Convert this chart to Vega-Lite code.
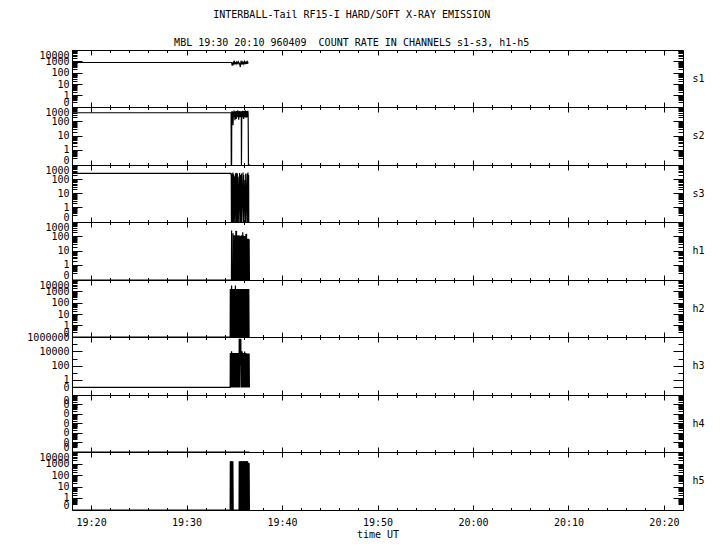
{
"$schema": "https://vega.github.io/schema/vega-lite/v6.json",
"padding": {"left": 26, "top": 10, "right": 10, "bottom": 8},
"background": "white",
"bounds": "flush",
"spacing": 0,
"title": {"text": "INTERBALL-Tail RF15-I HARD/SOFT X-RAY EMISSION", "subtitle": "MBL 19:30 20:10 960409\u00a0 COUNT RATE IN CHANNELS s1-s3, h1-h5", "font": "DejaVu Sans Mono", "fontSize": 10, "fontWeight": "normal", "color": "black", "subtitleFont": "DejaVu Sans Mono", "subtitleFontSize": 10, "subtitleColor": "black", "subtitlePadding": 18, "offset": 1, "anchor": "middle", "dx": -14},
"config": {
  "font": "DejaVu Sans Mono",
  "view": {"stroke": "black", "strokeWidth": 1},
  "axis": {"domain": false, "grid": false, "labelFont": "DejaVu Sans Mono", "labelFontSize": 10, "labelColor": "black", "tickColor": "black", "tickWidth": 1, "titleFont": "DejaVu Sans Mono", "titleFontSize": 10, "titleFontWeight": "normal", "titleColor": "black", "labelOverlap": false},
  "line": {"color": "black", "strokeWidth": 1.2, "clip": true},
  "title": {"font": "DejaVu Sans Mono", "fontSize": 10, "fontWeight": "normal", "color": "black"},
  "concat": {"spacing": 0}
},
"vconcat": [
{
 "width": 611, "height": 57,
 "title": {"text": "s1", "orient": "right", "angle": 0, "align": "left", "baseline": "middle", "anchor": "middle", "offset": -3},
 "data": {"values": [
  {"t":"1996-04-09T19:18:00Z","v":800},{"t":"1996-04-09T19:34:41Z","v":800},{"t":"1996-04-09T19:34:44Z","v":700},{"t":"1996-04-09T19:34:47Z","v":430},{"t":"1996-04-09T19:34:50Z","v":820},{"t":"1996-04-09T19:34:53Z","v":600},{"t":"1996-04-09T19:34:56Z","v":850},{"t":"1996-04-09T19:34:59Z","v":650},{"t":"1996-04-09T19:35:02Z","v":900},{"t":"1996-04-09T19:35:05Z","v":700},{"t":"1996-04-09T19:35:08Z","v":760},{"t":"1996-04-09T19:35:11Z","v":600},{"t":"1996-04-09T19:35:14Z","v":850},{"t":"1996-04-09T19:35:17Z","v":700},{"t":"1996-04-09T19:35:20Z","v":800},{"t":"1996-04-09T19:35:23Z","v":650},{"t":"1996-04-09T19:35:26Z","v":900},{"t":"1996-04-09T19:35:29Z","v":740},{"t":"1996-04-09T19:35:32Z","v":700},{"t":"1996-04-09T19:35:35Z","v":500},{"t":"1996-04-09T19:35:38Z","v":320},{"t":"1996-04-09T19:35:41Z","v":800},{"t":"1996-04-09T19:35:44Z","v":650},{"t":"1996-04-09T19:35:47Z","v":900},{"t":"1996-04-09T19:35:50Z","v":700},{"t":"1996-04-09T19:35:53Z","v":850},{"t":"1996-04-09T19:35:56Z","v":600},{"t":"1996-04-09T19:35:59Z","v":800},{"t":"1996-04-09T19:36:02Z","v":700},{"t":"1996-04-09T19:36:05Z","v":950},{"t":"1996-04-09T19:36:08Z","v":650},{"t":"1996-04-09T19:36:11Z","v":800},{"t":"1996-04-09T19:36:14Z","v":700},{"t":"1996-04-09T19:36:17Z","v":850},{"t":"1996-04-09T19:36:20Z","v":600},{"t":"1996-04-09T19:36:23Z","v":900},{"t":"1996-04-09T19:36:26Z","v":750},{"t":"1996-04-09T19:36:29Z","v":800}
 ]},
 "layer": [
  {"mark": "line", "encoding": {
   "x": {"field": "t", "type": "temporal", "scale": {"type": "utc", "nice": false, "domain": [{"year":1996,"month":4,"date":9,"hours":19,"minutes":18,"utc":true},{"year":1996,"month":4,"date":9,"hours":20,"minutes":22,"utc":true}]}, "axis": {"orient": "bottom", "labels": false, "title": null, "values": [829077600000,829078200000,829078800000,829079400000,829080000000,829080600000,829081200000], "tickSize": -5}},
   "y": {"field": "v", "type": "quantitative", "scale": {"type": "symlog", "constant": 0.1, "domain": [0, 10000], "nice": false, "zero": false}, "axis": {"orient": "left", "title": null, "values": [0,1,10,100,1000,10000], "labelFlush": true, "labelPadding": 13, "labelExpr": "format(datum.value, 'd')", "tickSize": -10}}}},
  {"mark": {"type": "line", "opacity": 0}, "encoding": {
   "x": {"field": "t", "type": "temporal", "scale": {"type": "utc", "nice": false, "domain": [{"year":1996,"month":4,"date":9,"hours":19,"minutes":18,"utc":true},{"year":1996,"month":4,"date":9,"hours":20,"minutes":22,"utc":true}]}, "axis": {"orient": "top", "labels": false, "title": null, "values": [829077600000,829078200000,829078800000,829079400000,829080000000,829080600000,829081200000], "tickSize": -5}},
   "y": {"field": "v", "type": "quantitative", "scale": {"type": "symlog", "constant": 0.1, "domain": [0, 10000], "nice": false, "zero": false}, "axis": {"orient": "right", "labels": false, "title": null, "values": [0,1,10,100,1000,10000], "tickSize": -10}}}},
  {"mark": {"type": "line", "opacity": 0}, "encoding": {
   "x": {"field": "t", "type": "temporal", "scale": {"type": "utc", "nice": false, "domain": [{"year":1996,"month":4,"date":9,"hours":19,"minutes":18,"utc":true},{"year":1996,"month":4,"date":9,"hours":20,"minutes":22,"utc":true}]}, "axis": {"orient": "bottom", "labels": false, "title": null, "values": [829077720000,829077840000,829077960000,829078080000,829078320000,829078440000,829078560000,829078680000,829078920000,829079040000,829079160000,829079280000,829079520000,829079640000,829079760000,829079880000,829080120000,829080240000,829080360000,829080480000,829080720000,829080840000,829080960000,829081080000], "tickSize": -2.5}},
   "y": {"field": "v", "type": "quantitative", "scale": {"type": "symlog", "constant": 0.1, "domain": [0, 10000], "nice": false, "zero": false}, "axis": {"orient": "left", "labels": false, "title": null, "values": [0.2,0.3,0.4,0.5,0.6,0.7,0.8,0.9,2,3,4,5,6,7,8,9,20,30,40,50,60,70,80,90,200,300,400,500,600,700,800,900,2000,3000,4000,5000,6000,7000,8000,9000], "tickSize": -5}}}},
  {"mark": {"type": "line", "opacity": 0}, "encoding": {
   "x": {"field": "t", "type": "temporal", "scale": {"type": "utc", "nice": false, "domain": [{"year":1996,"month":4,"date":9,"hours":19,"minutes":18,"utc":true},{"year":1996,"month":4,"date":9,"hours":20,"minutes":22,"utc":true}]}, "axis": {"orient": "top", "labels": false, "title": null, "values": [829077720000,829077840000,829077960000,829078080000,829078320000,829078440000,829078560000,829078680000,829078920000,829079040000,829079160000,829079280000,829079520000,829079640000,829079760000,829079880000,829080120000,829080240000,829080360000,829080480000,829080720000,829080840000,829080960000,829081080000], "tickSize": -2.5}},
   "y": {"field": "v", "type": "quantitative", "scale": {"type": "symlog", "constant": 0.1, "domain": [0, 10000], "nice": false, "zero": false}, "axis": {"orient": "right", "labels": false, "title": null, "values": [0.2,0.3,0.4,0.5,0.6,0.7,0.8,0.9,2,3,4,5,6,7,8,9,20,30,40,50,60,70,80,90,200,300,400,500,600,700,800,900,2000,3000,4000,5000,6000,7000,8000,9000], "tickSize": -5}}}}
 ],
 "resolve": {"scale": {"x": "independent", "y": "independent"}}
},
{
 "width": 611, "height": 58,
 "title": {"text": "s2", "orient": "right", "angle": 0, "align": "left", "baseline": "middle", "anchor": "middle", "offset": -3},
 "data": {"values": [
  {"t":"1996-04-09T19:18:00Z","v":400},{"t":"1996-04-09T19:34:40Z","v":400},{"t":"1996-04-09T19:34:41Z","v":0},{"t":"1996-04-09T19:34:43Z","v":0},{"t":"1996-04-09T19:34:44Z","v":300},{"t":"1996-04-09T19:34:46Z","v":520},{"t":"1996-04-09T19:34:48Z","v":150},{"t":"1996-04-09T19:34:50Z","v":450},{"t":"1996-04-09T19:34:52Z","v":55},{"t":"1996-04-09T19:34:54Z","v":380},{"t":"1996-04-09T19:34:56Z","v":200},{"t":"1996-04-09T19:34:58Z","v":560},{"t":"1996-04-09T19:35:00Z","v":250},{"t":"1996-04-09T19:35:02Z","v":480},{"t":"1996-04-09T19:35:04Z","v":120},{"t":"1996-04-09T19:35:06Z","v":500},{"t":"1996-04-09T19:35:08Z","v":300},{"t":"1996-04-09T19:35:10Z","v":420},{"t":"1996-04-09T19:35:12Z","v":150},{"t":"1996-04-09T19:35:14Z","v":520},{"t":"1996-04-09T19:35:16Z","v":260},{"t":"1996-04-09T19:35:18Z","v":450},{"t":"1996-04-09T19:35:20Z","v":200},{"t":"1996-04-09T19:35:22Z","v":600},{"t":"1996-04-09T19:35:24Z","v":240},{"t":"1996-04-09T19:35:26Z","v":500},{"t":"1996-04-09T19:35:28Z","v":130},{"t":"1996-04-09T19:35:30Z","v":450},{"t":"1996-04-09T19:35:32Z","v":280},{"t":"1996-04-09T19:35:34Z","v":520},{"t":"1996-04-09T19:35:36Z","v":200},{"t":"1996-04-09T19:35:38Z","v":480},{"t":"1996-04-09T19:35:40Z","v":260},{"t":"1996-04-09T19:35:42Z","v":500},{"t":"1996-04-09T19:35:44Z","v":300},{"t":"1996-04-09T19:35:45Z","v":0},{"t":"1996-04-09T19:35:47Z","v":350},{"t":"1996-04-09T19:35:49Z","v":500},{"t":"1996-04-09T19:35:51Z","v":200},{"t":"1996-04-09T19:35:53Z","v":550},{"t":"1996-04-09T19:35:55Z","v":260},{"t":"1996-04-09T19:35:57Z","v":480},{"t":"1996-04-09T19:35:59Z","v":150},{"t":"1996-04-09T19:36:01Z","v":520},{"t":"1996-04-09T19:36:03Z","v":280},{"t":"1996-04-09T19:36:05Z","v":450},{"t":"1996-04-09T19:36:07Z","v":200},{"t":"1996-04-09T19:36:09Z","v":600},{"t":"1996-04-09T19:36:11Z","v":300},{"t":"1996-04-09T19:36:13Z","v":500},{"t":"1996-04-09T19:36:15Z","v":180},{"t":"1996-04-09T19:36:17Z","v":520},{"t":"1996-04-09T19:36:19Z","v":250},{"t":"1996-04-09T19:36:21Z","v":480},{"t":"1996-04-09T19:36:23Z","v":200},{"t":"1996-04-09T19:36:25Z","v":550},{"t":"1996-04-09T19:36:27Z","v":300},{"t":"1996-04-09T19:36:29Z","v":0},{"t":"1996-04-09T19:36:40Z","v":0}
 ]},
 "layer": [
  {"mark": "line", "encoding": {
   "x": {"field": "t", "type": "temporal", "scale": {"type": "utc", "nice": false, "domain": [{"year":1996,"month":4,"date":9,"hours":19,"minutes":18,"utc":true},{"year":1996,"month":4,"date":9,"hours":20,"minutes":22,"utc":true}]}, "axis": {"orient": "bottom", "labels": false, "title": null, "values": [829077600000,829078200000,829078800000,829079400000,829080000000,829080600000,829081200000], "tickSize": -5}},
   "y": {"field": "v", "type": "quantitative", "scale": {"type": "symlog", "constant": 0.1, "domain": [0, 1000], "nice": false, "zero": false}, "axis": {"orient": "left", "title": null, "values": [0,1,10,100,1000], "labelFlush": true, "labelPadding": 13, "labelExpr": "format(datum.value, 'd')", "tickSize": -10}}}},
  {"mark": {"type": "line", "opacity": 0}, "encoding": {
   "x": {"field": "t", "type": "temporal", "scale": {"type": "utc", "nice": false, "domain": [{"year":1996,"month":4,"date":9,"hours":19,"minutes":18,"utc":true},{"year":1996,"month":4,"date":9,"hours":20,"minutes":22,"utc":true}]}, "axis": {"orient": "top", "labels": false, "title": null, "values": [829077600000,829078200000,829078800000,829079400000,829080000000,829080600000,829081200000], "tickSize": -5}},
   "y": {"field": "v", "type": "quantitative", "scale": {"type": "symlog", "constant": 0.1, "domain": [0, 1000], "nice": false, "zero": false}, "axis": {"orient": "right", "labels": false, "title": null, "values": [0,1,10,100,1000], "tickSize": -10}}}},
  {"mark": {"type": "line", "opacity": 0}, "encoding": {
   "x": {"field": "t", "type": "temporal", "scale": {"type": "utc", "nice": false, "domain": [{"year":1996,"month":4,"date":9,"hours":19,"minutes":18,"utc":true},{"year":1996,"month":4,"date":9,"hours":20,"minutes":22,"utc":true}]}, "axis": {"orient": "bottom", "labels": false, "title": null, "values": [829077720000,829077840000,829077960000,829078080000,829078320000,829078440000,829078560000,829078680000,829078920000,829079040000,829079160000,829079280000,829079520000,829079640000,829079760000,829079880000,829080120000,829080240000,829080360000,829080480000,829080720000,829080840000,829080960000,829081080000], "tickSize": -2.5}},
   "y": {"field": "v", "type": "quantitative", "scale": {"type": "symlog", "constant": 0.1, "domain": [0, 1000], "nice": false, "zero": false}, "axis": {"orient": "left", "labels": false, "title": null, "values": [0.2,0.3,0.4,0.5,0.6,0.7,0.8,0.9,2,3,4,5,6,7,8,9,20,30,40,50,60,70,80,90,200,300,400,500,600,700,800,900], "tickSize": -5}}}},
  {"mark": {"type": "line", "opacity": 0}, "encoding": {
   "x": {"field": "t", "type": "temporal", "scale": {"type": "utc", "nice": false, "domain": [{"year":1996,"month":4,"date":9,"hours":19,"minutes":18,"utc":true},{"year":1996,"month":4,"date":9,"hours":20,"minutes":22,"utc":true}]}, "axis": {"orient": "top", "labels": false, "title": null, "values": [829077720000,829077840000,829077960000,829078080000,829078320000,829078440000,829078560000,829078680000,829078920000,829079040000,829079160000,829079280000,829079520000,829079640000,829079760000,829079880000,829080120000,829080240000,829080360000,829080480000,829080720000,829080840000,829080960000,829081080000], "tickSize": -2.5}},
   "y": {"field": "v", "type": "quantitative", "scale": {"type": "symlog", "constant": 0.1, "domain": [0, 1000], "nice": false, "zero": false}, "axis": {"orient": "right", "labels": false, "title": null, "values": [0.2,0.3,0.4,0.5,0.6,0.7,0.8,0.9,2,3,4,5,6,7,8,9,20,30,40,50,60,70,80,90,200,300,400,500,600,700,800,900], "tickSize": -5}}}}
 ],
 "resolve": {"scale": {"x": "independent", "y": "independent"}}
},
{
 "width": 611, "height": 57,
 "title": {"text": "s3", "orient": "right", "angle": 0, "align": "left", "baseline": "middle", "anchor": "middle", "offset": -3},
 "data": {"values": [
  {"t":"1996-04-09T19:18:00Z","v":260},{"t":"1996-04-09T19:34:38Z","v":260},{"t":"1996-04-09T19:34:41Z","v":180},{"t":"1996-04-09T19:34:42Z","v":0},
  {"t":"1996-04-09T19:34:43Z","v":250},{"t":"1996-04-09T19:34:45Z","v":0},{"t":"1996-04-09T19:34:47Z","v":180},{"t":"1996-04-09T19:34:49Z","v":0},{"t":"1996-04-09T19:34:51Z","v":300},{"t":"1996-04-09T19:34:53Z","v":0},{"t":"1996-04-09T19:34:55Z","v":220},{"t":"1996-04-09T19:34:57Z","v":0},{"t":"1996-04-09T19:34:59Z","v":160},{"t":"1996-04-09T19:35:00Z","v":0},
  {"t":"1996-04-09T19:35:07Z","v":240},{"t":"1996-04-09T19:35:09Z","v":0},{"t":"1996-04-09T19:35:11Z","v":290},{"t":"1996-04-09T19:35:13Z","v":0},{"t":"1996-04-09T19:35:15Z","v":200},{"t":"1996-04-09T19:35:17Z","v":0},{"t":"1996-04-09T19:35:19Z","v":260},{"t":"1996-04-09T19:35:21Z","v":0},{"t":"1996-04-09T19:35:23Z","v":150},{"t":"1996-04-09T19:35:25Z","v":0},
  {"t":"1996-04-09T19:35:33Z","v":270},{"t":"1996-04-09T19:35:35Z","v":0},{"t":"1996-04-09T19:35:37Z","v":200},{"t":"1996-04-09T19:35:39Z","v":0},{"t":"1996-04-09T19:35:41Z","v":120},{"t":"1996-04-09T19:35:43Z","v":0},{"t":"1996-04-09T19:35:45Z","v":250},{"t":"1996-04-09T19:35:46Z","v":0},
  {"t":"1996-04-09T19:35:55Z","v":300},{"t":"1996-04-09T19:35:57Z","v":0},{"t":"1996-04-09T19:35:59Z","v":200},{"t":"1996-04-09T19:36:00Z","v":0},
  {"t":"1996-04-09T19:36:08Z","v":90},{"t":"1996-04-09T19:36:10Z","v":0},{"t":"1996-04-09T19:36:12Z","v":250},{"t":"1996-04-09T19:36:14Z","v":0},
  {"t":"1996-04-09T19:36:22Z","v":240},{"t":"1996-04-09T19:36:24Z","v":0},{"t":"1996-04-09T19:36:26Z","v":300},{"t":"1996-04-09T19:36:28Z","v":0},{"t":"1996-04-09T19:36:30Z","v":200},{"t":"1996-04-09T19:36:31Z","v":0}
 ]},
 "layer": [
  {"mark": "line", "encoding": {
   "x": {"field": "t", "type": "temporal", "scale": {"type": "utc", "nice": false, "domain": [{"year":1996,"month":4,"date":9,"hours":19,"minutes":18,"utc":true},{"year":1996,"month":4,"date":9,"hours":20,"minutes":22,"utc":true}]}, "axis": {"orient": "bottom", "labels": false, "title": null, "values": [829077600000,829078200000,829078800000,829079400000,829080000000,829080600000,829081200000], "tickSize": -5}},
   "y": {"field": "v", "type": "quantitative", "scale": {"type": "symlog", "constant": 0.1, "domain": [0, 1000], "nice": false, "zero": false}, "axis": {"orient": "left", "title": null, "values": [0,1,10,100,1000], "labelFlush": true, "labelPadding": 13, "labelExpr": "format(datum.value, 'd')", "tickSize": -10}}}},
  {"mark": {"type": "line", "opacity": 0}, "encoding": {
   "x": {"field": "t", "type": "temporal", "scale": {"type": "utc", "nice": false, "domain": [{"year":1996,"month":4,"date":9,"hours":19,"minutes":18,"utc":true},{"year":1996,"month":4,"date":9,"hours":20,"minutes":22,"utc":true}]}, "axis": {"orient": "top", "labels": false, "title": null, "values": [829077600000,829078200000,829078800000,829079400000,829080000000,829080600000,829081200000], "tickSize": -5}},
   "y": {"field": "v", "type": "quantitative", "scale": {"type": "symlog", "constant": 0.1, "domain": [0, 1000], "nice": false, "zero": false}, "axis": {"orient": "right", "labels": false, "title": null, "values": [0,1,10,100,1000], "tickSize": -10}}}},
  {"mark": {"type": "line", "opacity": 0}, "encoding": {
   "x": {"field": "t", "type": "temporal", "scale": {"type": "utc", "nice": false, "domain": [{"year":1996,"month":4,"date":9,"hours":19,"minutes":18,"utc":true},{"year":1996,"month":4,"date":9,"hours":20,"minutes":22,"utc":true}]}, "axis": {"orient": "bottom", "labels": false, "title": null, "values": [829077720000,829077840000,829077960000,829078080000,829078320000,829078440000,829078560000,829078680000,829078920000,829079040000,829079160000,829079280000,829079520000,829079640000,829079760000,829079880000,829080120000,829080240000,829080360000,829080480000,829080720000,829080840000,829080960000,829081080000], "tickSize": -2.5}},
   "y": {"field": "v", "type": "quantitative", "scale": {"type": "symlog", "constant": 0.1, "domain": [0, 1000], "nice": false, "zero": false}, "axis": {"orient": "left", "labels": false, "title": null, "values": [0.2,0.3,0.4,0.5,0.6,0.7,0.8,0.9,2,3,4,5,6,7,8,9,20,30,40,50,60,70,80,90,200,300,400,500,600,700,800,900], "tickSize": -5}}}},
  {"mark": {"type": "line", "opacity": 0}, "encoding": {
   "x": {"field": "t", "type": "temporal", "scale": {"type": "utc", "nice": false, "domain": [{"year":1996,"month":4,"date":9,"hours":19,"minutes":18,"utc":true},{"year":1996,"month":4,"date":9,"hours":20,"minutes":22,"utc":true}]}, "axis": {"orient": "top", "labels": false, "title": null, "values": [829077720000,829077840000,829077960000,829078080000,829078320000,829078440000,829078560000,829078680000,829078920000,829079040000,829079160000,829079280000,829079520000,829079640000,829079760000,829079880000,829080120000,829080240000,829080360000,829080480000,829080720000,829080840000,829080960000,829081080000], "tickSize": -2.5}},
   "y": {"field": "v", "type": "quantitative", "scale": {"type": "symlog", "constant": 0.1, "domain": [0, 1000], "nice": false, "zero": false}, "axis": {"orient": "right", "labels": false, "title": null, "values": [0.2,0.3,0.4,0.5,0.6,0.7,0.8,0.9,2,3,4,5,6,7,8,9,20,30,40,50,60,70,80,90,200,300,400,500,600,700,800,900], "tickSize": -5}}}}
 ],
 "resolve": {"scale": {"x": "independent", "y": "independent"}}
},
{
 "width": 611, "height": 58,
 "title": {"text": "h1", "orient": "right", "angle": 0, "align": "left", "baseline": "middle", "anchor": "middle", "offset": -3},
 "data": {"values": [
  {"t":"1996-04-09T19:18:00Z","v":0},{"t":"1996-04-09T19:34:42Z","v":0},{"t":"1996-04-09T19:34:43Z","v":257},{"t":"1996-04-09T19:34:44Z","v":0},{"t":"1996-04-09T19:34:51Z","v":0},{"t":"1996-04-09T19:34:52Z","v":166},{"t":"1996-04-09T19:34:53Z","v":0},
  {"t":"1996-04-09T19:34:58Z","v":115},{"t":"1996-04-09T19:35:00Z","v":0},{"t":"1996-04-09T19:35:02Z","v":120},{"t":"1996-04-09T19:35:04Z","v":0},{"t":"1996-04-09T19:35:06Z","v":110},{"t":"1996-04-09T19:35:08Z","v":0},{"t":"1996-04-09T19:35:10Z","v":250},{"t":"1996-04-09T19:35:12Z","v":0},{"t":"1996-04-09T19:35:14Z","v":240},{"t":"1996-04-09T19:35:16Z","v":0},{"t":"1996-04-09T19:35:18Z","v":115},{"t":"1996-04-09T19:35:20Z","v":0},
  {"t":"1996-04-09T19:35:25Z","v":120},{"t":"1996-04-09T19:35:27Z","v":0},{"t":"1996-04-09T19:35:29Z","v":100},{"t":"1996-04-09T19:35:31Z","v":0},{"t":"1996-04-09T19:35:33Z","v":115},{"t":"1996-04-09T19:35:35Z","v":0},{"t":"1996-04-09T19:35:37Z","v":90},{"t":"1996-04-09T19:35:39Z","v":0},{"t":"1996-04-09T19:35:41Z","v":110},{"t":"1996-04-09T19:35:43Z","v":0},{"t":"1996-04-09T19:35:45Z","v":120},{"t":"1996-04-09T19:35:47Z","v":0},{"t":"1996-04-09T19:35:49Z","v":110},{"t":"1996-04-09T19:35:51Z","v":0},{"t":"1996-04-09T19:35:53Z","v":195},{"t":"1996-04-09T19:35:55Z","v":0},{"t":"1996-04-09T19:35:57Z","v":115},{"t":"1996-04-09T19:35:59Z","v":0},{"t":"1996-04-09T19:36:01Z","v":100},{"t":"1996-04-09T19:36:03Z","v":0},{"t":"1996-04-09T19:36:05Z","v":110},{"t":"1996-04-09T19:36:07Z","v":0},{"t":"1996-04-09T19:36:09Z","v":90},{"t":"1996-04-09T19:36:11Z","v":0},{"t":"1996-04-09T19:36:13Z","v":150},{"t":"1996-04-09T19:36:15Z","v":0},{"t":"1996-04-09T19:36:17Z","v":155},{"t":"1996-04-09T19:36:19Z","v":0},{"t":"1996-04-09T19:36:21Z","v":70},{"t":"1996-04-09T19:36:23Z","v":0},{"t":"1996-04-09T19:36:25Z","v":68},{"t":"1996-04-09T19:36:27Z","v":0},{"t":"1996-04-09T19:36:29Z","v":70},{"t":"1996-04-09T19:36:31Z","v":0},{"t":"1996-04-09T19:36:33Z","v":65},{"t":"1996-04-09T19:36:35Z","v":0}
 ]},
 "layer": [
  {"mark": "line", "encoding": {
   "x": {"field": "t", "type": "temporal", "scale": {"type": "utc", "nice": false, "domain": [{"year":1996,"month":4,"date":9,"hours":19,"minutes":18,"utc":true},{"year":1996,"month":4,"date":9,"hours":20,"minutes":22,"utc":true}]}, "axis": {"orient": "bottom", "labels": false, "title": null, "values": [829077600000,829078200000,829078800000,829079400000,829080000000,829080600000,829081200000], "tickSize": -5}},
   "y": {"field": "v", "type": "quantitative", "scale": {"type": "symlog", "constant": 0.1, "domain": [0, 1000], "nice": false, "zero": false}, "axis": {"orient": "left", "title": null, "values": [0,1,10,100,1000], "labelFlush": true, "labelPadding": 13, "labelExpr": "format(datum.value, 'd')", "tickSize": -10}}}},
  {"mark": {"type": "line", "opacity": 0}, "encoding": {
   "x": {"field": "t", "type": "temporal", "scale": {"type": "utc", "nice": false, "domain": [{"year":1996,"month":4,"date":9,"hours":19,"minutes":18,"utc":true},{"year":1996,"month":4,"date":9,"hours":20,"minutes":22,"utc":true}]}, "axis": {"orient": "top", "labels": false, "title": null, "values": [829077600000,829078200000,829078800000,829079400000,829080000000,829080600000,829081200000], "tickSize": -5}},
   "y": {"field": "v", "type": "quantitative", "scale": {"type": "symlog", "constant": 0.1, "domain": [0, 1000], "nice": false, "zero": false}, "axis": {"orient": "right", "labels": false, "title": null, "values": [0,1,10,100,1000], "tickSize": -10}}}},
  {"mark": {"type": "line", "opacity": 0}, "encoding": {
   "x": {"field": "t", "type": "temporal", "scale": {"type": "utc", "nice": false, "domain": [{"year":1996,"month":4,"date":9,"hours":19,"minutes":18,"utc":true},{"year":1996,"month":4,"date":9,"hours":20,"minutes":22,"utc":true}]}, "axis": {"orient": "bottom", "labels": false, "title": null, "values": [829077720000,829077840000,829077960000,829078080000,829078320000,829078440000,829078560000,829078680000,829078920000,829079040000,829079160000,829079280000,829079520000,829079640000,829079760000,829079880000,829080120000,829080240000,829080360000,829080480000,829080720000,829080840000,829080960000,829081080000], "tickSize": -2.5}},
   "y": {"field": "v", "type": "quantitative", "scale": {"type": "symlog", "constant": 0.1, "domain": [0, 1000], "nice": false, "zero": false}, "axis": {"orient": "left", "labels": false, "title": null, "values": [0.2,0.3,0.4,0.5,0.6,0.7,0.8,0.9,2,3,4,5,6,7,8,9,20,30,40,50,60,70,80,90,200,300,400,500,600,700,800,900], "tickSize": -5}}}},
  {"mark": {"type": "line", "opacity": 0}, "encoding": {
   "x": {"field": "t", "type": "temporal", "scale": {"type": "utc", "nice": false, "domain": [{"year":1996,"month":4,"date":9,"hours":19,"minutes":18,"utc":true},{"year":1996,"month":4,"date":9,"hours":20,"minutes":22,"utc":true}]}, "axis": {"orient": "top", "labels": false, "title": null, "values": [829077720000,829077840000,829077960000,829078080000,829078320000,829078440000,829078560000,829078680000,829078920000,829079040000,829079160000,829079280000,829079520000,829079640000,829079760000,829079880000,829080120000,829080240000,829080360000,829080480000,829080720000,829080840000,829080960000,829081080000], "tickSize": -2.5}},
   "y": {"field": "v", "type": "quantitative", "scale": {"type": "symlog", "constant": 0.1, "domain": [0, 1000], "nice": false, "zero": false}, "axis": {"orient": "right", "labels": false, "title": null, "values": [0.2,0.3,0.4,0.5,0.6,0.7,0.8,0.9,2,3,4,5,6,7,8,9,20,30,40,50,60,70,80,90,200,300,400,500,600,700,800,900], "tickSize": -5}}}}
 ],
 "resolve": {"scale": {"x": "independent", "y": "independent"}}
},
{
 "width": 611, "height": 57,
 "title": {"text": "h2", "orient": "right", "angle": 0, "align": "left", "baseline": "middle", "anchor": "middle", "offset": -3},
 "data": {"values": [
  {"t":"1996-04-09T19:18:00Z","v":0},{"t":"1996-04-09T19:34:34Z","v":0},
  {"t":"1996-04-09T19:34:35Z","v":1600},{"t":"1996-04-09T19:34:37Z","v":0},{"t":"1996-04-09T19:34:39Z","v":1650},{"t":"1996-04-09T19:34:41Z","v":0},{"t":"1996-04-09T19:34:43Z","v":3300},{"t":"1996-04-09T19:34:45Z","v":0},{"t":"1996-04-09T19:34:47Z","v":1600},{"t":"1996-04-09T19:34:49Z","v":0},{"t":"1996-04-09T19:34:51Z","v":1650},{"t":"1996-04-09T19:34:53Z","v":0},{"t":"1996-04-09T19:34:55Z","v":1600},{"t":"1996-04-09T19:34:57Z","v":0},{"t":"1996-04-09T19:34:59Z","v":1620},{"t":"1996-04-09T19:35:01Z","v":0},{"t":"1996-04-09T19:35:03Z","v":1600},{"t":"1996-04-09T19:35:05Z","v":0},{"t":"1996-04-09T19:35:07Z","v":3300},{"t":"1996-04-09T19:35:09Z","v":0},{"t":"1996-04-09T19:35:11Z","v":1600},{"t":"1996-04-09T19:35:13Z","v":0},{"t":"1996-04-09T19:35:15Z","v":1650},{"t":"1996-04-09T19:35:17Z","v":0},{"t":"1996-04-09T19:35:19Z","v":1600},{"t":"1996-04-09T19:35:21Z","v":0},{"t":"1996-04-09T19:35:23Z","v":1620},{"t":"1996-04-09T19:35:25Z","v":0},{"t":"1996-04-09T19:35:27Z","v":1600},{"t":"1996-04-09T19:35:29Z","v":0},{"t":"1996-04-09T19:35:31Z","v":1650},{"t":"1996-04-09T19:35:33Z","v":0},{"t":"1996-04-09T19:35:35Z","v":1600},{"t":"1996-04-09T19:35:37Z","v":0},{"t":"1996-04-09T19:35:39Z","v":1620},{"t":"1996-04-09T19:35:41Z","v":0},{"t":"1996-04-09T19:35:43Z","v":1600},{"t":"1996-04-09T19:35:45Z","v":0},{"t":"1996-04-09T19:35:47Z","v":1650},{"t":"1996-04-09T19:35:49Z","v":0},{"t":"1996-04-09T19:35:51Z","v":1600},{"t":"1996-04-09T19:35:53Z","v":0},{"t":"1996-04-09T19:35:55Z","v":1620},{"t":"1996-04-09T19:35:57Z","v":0},{"t":"1996-04-09T19:35:59Z","v":1600},{"t":"1996-04-09T19:36:01Z","v":0},{"t":"1996-04-09T19:36:03Z","v":1650},{"t":"1996-04-09T19:36:05Z","v":0},{"t":"1996-04-09T19:36:07Z","v":1600},{"t":"1996-04-09T19:36:09Z","v":0},{"t":"1996-04-09T19:36:11Z","v":1620},{"t":"1996-04-09T19:36:13Z","v":0},{"t":"1996-04-09T19:36:15Z","v":1600},{"t":"1996-04-09T19:36:17Z","v":0},{"t":"1996-04-09T19:36:19Z","v":1650},{"t":"1996-04-09T19:36:21Z","v":0},{"t":"1996-04-09T19:36:23Z","v":1600},{"t":"1996-04-09T19:36:25Z","v":0},{"t":"1996-04-09T19:36:27Z","v":1620},{"t":"1996-04-09T19:36:29Z","v":0},{"t":"1996-04-09T19:36:31Z","v":1600},{"t":"1996-04-09T19:36:33Z","v":0}
 ]},
 "layer": [
  {"mark": "line", "encoding": {
   "x": {"field": "t", "type": "temporal", "scale": {"type": "utc", "nice": false, "domain": [{"year":1996,"month":4,"date":9,"hours":19,"minutes":18,"utc":true},{"year":1996,"month":4,"date":9,"hours":20,"minutes":22,"utc":true}]}, "axis": {"orient": "bottom", "labels": false, "title": null, "values": [829077600000,829078200000,829078800000,829079400000,829080000000,829080600000,829081200000], "tickSize": -5}},
   "y": {"field": "v", "type": "quantitative", "scale": {"type": "symlog", "constant": 0.1, "domain": [0, 10000], "nice": false, "zero": false}, "axis": {"orient": "left", "title": null, "values": [0,1,10,100,1000,10000], "labelFlush": true, "labelPadding": 13, "labelExpr": "format(datum.value, 'd')", "tickSize": -10}}}},
  {"mark": {"type": "line", "opacity": 0}, "encoding": {
   "x": {"field": "t", "type": "temporal", "scale": {"type": "utc", "nice": false, "domain": [{"year":1996,"month":4,"date":9,"hours":19,"minutes":18,"utc":true},{"year":1996,"month":4,"date":9,"hours":20,"minutes":22,"utc":true}]}, "axis": {"orient": "top", "labels": false, "title": null, "values": [829077600000,829078200000,829078800000,829079400000,829080000000,829080600000,829081200000], "tickSize": -5}},
   "y": {"field": "v", "type": "quantitative", "scale": {"type": "symlog", "constant": 0.1, "domain": [0, 10000], "nice": false, "zero": false}, "axis": {"orient": "right", "labels": false, "title": null, "values": [0,1,10,100,1000,10000], "tickSize": -10}}}},
  {"mark": {"type": "line", "opacity": 0}, "encoding": {
   "x": {"field": "t", "type": "temporal", "scale": {"type": "utc", "nice": false, "domain": [{"year":1996,"month":4,"date":9,"hours":19,"minutes":18,"utc":true},{"year":1996,"month":4,"date":9,"hours":20,"minutes":22,"utc":true}]}, "axis": {"orient": "bottom", "labels": false, "title": null, "values": [829077720000,829077840000,829077960000,829078080000,829078320000,829078440000,829078560000,829078680000,829078920000,829079040000,829079160000,829079280000,829079520000,829079640000,829079760000,829079880000,829080120000,829080240000,829080360000,829080480000,829080720000,829080840000,829080960000,829081080000], "tickSize": -2.5}},
   "y": {"field": "v", "type": "quantitative", "scale": {"type": "symlog", "constant": 0.1, "domain": [0, 10000], "nice": false, "zero": false}, "axis": {"orient": "left", "labels": false, "title": null, "values": [0.2,0.3,0.4,0.5,0.6,0.7,0.8,0.9,2,3,4,5,6,7,8,9,20,30,40,50,60,70,80,90,200,300,400,500,600,700,800,900,2000,3000,4000,5000,6000,7000,8000,9000], "tickSize": -5}}}},
  {"mark": {"type": "line", "opacity": 0}, "encoding": {
   "x": {"field": "t", "type": "temporal", "scale": {"type": "utc", "nice": false, "domain": [{"year":1996,"month":4,"date":9,"hours":19,"minutes":18,"utc":true},{"year":1996,"month":4,"date":9,"hours":20,"minutes":22,"utc":true}]}, "axis": {"orient": "top", "labels": false, "title": null, "values": [829077720000,829077840000,829077960000,829078080000,829078320000,829078440000,829078560000,829078680000,829078920000,829079040000,829079160000,829079280000,829079520000,829079640000,829079760000,829079880000,829080120000,829080240000,829080360000,829080480000,829080720000,829080840000,829080960000,829081080000], "tickSize": -2.5}},
   "y": {"field": "v", "type": "quantitative", "scale": {"type": "symlog", "constant": 0.1, "domain": [0, 10000], "nice": false, "zero": false}, "axis": {"orient": "right", "labels": false, "title": null, "values": [0.2,0.3,0.4,0.5,0.6,0.7,0.8,0.9,2,3,4,5,6,7,8,9,20,30,40,50,60,70,80,90,200,300,400,500,600,700,800,900,2000,3000,4000,5000,6000,7000,8000,9000], "tickSize": -5}}}}
 ],
 "resolve": {"scale": {"x": "independent", "y": "independent"}}
},
{
 "width": 611, "height": 58,
 "title": {"text": "h3", "orient": "right", "angle": 0, "align": "left", "baseline": "middle", "anchor": "middle", "offset": -3},
 "data": {"values": [
  {"t":"1996-04-09T19:18:00Z","v":0},{"t":"1996-04-09T19:34:34Z","v":0},
  {"t":"1996-04-09T19:34:35Z","v":6000},{"t":"1996-04-09T19:34:37Z","v":0},{"t":"1996-04-09T19:34:39Z","v":6200},{"t":"1996-04-09T19:34:41Z","v":0},{"t":"1996-04-09T19:34:43Z","v":10500},{"t":"1996-04-09T19:34:45Z","v":0},{"t":"1996-04-09T19:34:47Z","v":6000},{"t":"1996-04-09T19:34:49Z","v":0},{"t":"1996-04-09T19:34:51Z","v":6200},{"t":"1996-04-09T19:34:53Z","v":0},{"t":"1996-04-09T19:34:55Z","v":5800},{"t":"1996-04-09T19:34:57Z","v":0},{"t":"1996-04-09T19:34:59Z","v":6000},{"t":"1996-04-09T19:35:01Z","v":0},{"t":"1996-04-09T19:35:03Z","v":6200},{"t":"1996-04-09T19:35:05Z","v":0},{"t":"1996-04-09T19:35:07Z","v":6000},{"t":"1996-04-09T19:35:09Z","v":0},{"t":"1996-04-09T19:35:11Z","v":6100},{"t":"1996-04-09T19:35:13Z","v":0},{"t":"1996-04-09T19:35:15Z","v":6000},{"t":"1996-04-09T19:35:17Z","v":0},{"t":"1996-04-09T19:35:19Z","v":6200},{"t":"1996-04-09T19:35:21Z","v":0},{"t":"1996-04-09T19:35:23Z","v":5900},{"t":"1996-04-09T19:35:25Z","v":0},{"t":"1996-04-09T19:35:27Z","v":6000},{"t":"1996-04-09T19:35:29Z","v":0},{"t":"1996-04-09T19:35:31Z","v":550000},{"t":"1996-04-09T19:35:33Z","v":0},{"t":"1996-04-09T19:35:35Z","v":550000},{"t":"1996-04-09T19:35:38Z","v":140},{"t":"1996-04-09T19:35:41Z","v":550000},{"t":"1996-04-09T19:35:43Z","v":0},{"t":"1996-04-09T19:35:45Z","v":6000},{"t":"1996-04-09T19:35:47Z","v":0},{"t":"1996-04-09T19:35:49Z","v":10500},{"t":"1996-04-09T19:35:51Z","v":0},{"t":"1996-04-09T19:35:53Z","v":6000},{"t":"1996-04-09T19:35:55Z","v":0},{"t":"1996-04-09T19:35:57Z","v":6200},{"t":"1996-04-09T19:35:59Z","v":0},{"t":"1996-04-09T19:36:01Z","v":6000},{"t":"1996-04-09T19:36:03Z","v":0},{"t":"1996-04-09T19:36:05Z","v":10000},{"t":"1996-04-09T19:36:07Z","v":0},{"t":"1996-04-09T19:36:09Z","v":6000},{"t":"1996-04-09T19:36:11Z","v":0},{"t":"1996-04-09T19:36:13Z","v":6200},{"t":"1996-04-09T19:36:15Z","v":0},{"t":"1996-04-09T19:36:17Z","v":5000},{"t":"1996-04-09T19:36:19Z","v":0},{"t":"1996-04-09T19:36:21Z","v":5200},{"t":"1996-04-09T19:36:23Z","v":0},{"t":"1996-04-09T19:36:25Z","v":5000},{"t":"1996-04-09T19:36:27Z","v":0},{"t":"1996-04-09T19:36:29Z","v":5200},{"t":"1996-04-09T19:36:31Z","v":0},{"t":"1996-04-09T19:36:33Z","v":5000},{"t":"1996-04-09T19:36:35Z","v":0}
 ]},
 "layer": [
  {"mark": "line", "encoding": {
   "x": {"field": "t", "type": "temporal", "scale": {"type": "utc", "nice": false, "domain": [{"year":1996,"month":4,"date":9,"hours":19,"minutes":18,"utc":true},{"year":1996,"month":4,"date":9,"hours":20,"minutes":22,"utc":true}]}, "axis": {"orient": "bottom", "labels": false, "title": null, "values": [829077600000,829078200000,829078800000,829079400000,829080000000,829080600000,829081200000], "tickSize": -5}},
   "y": {"field": "v", "type": "quantitative", "scale": {"type": "symlog", "constant": 0.1, "domain": [-1.02, 1000000], "nice": false, "zero": false}, "axis": {"orient": "left", "title": null, "values": [0,1,100,10000,1000000], "labelFlush": false, "labelPadding": 13, "labelExpr": "format(datum.value, 'd')", "tickSize": -10}}}},
  {"mark": {"type": "line", "opacity": 0}, "encoding": {
   "x": {"field": "t", "type": "temporal", "scale": {"type": "utc", "nice": false, "domain": [{"year":1996,"month":4,"date":9,"hours":19,"minutes":18,"utc":true},{"year":1996,"month":4,"date":9,"hours":20,"minutes":22,"utc":true}]}, "axis": {"orient": "top", "labels": false, "title": null, "values": [829077600000,829078200000,829078800000,829079400000,829080000000,829080600000,829081200000], "tickSize": -5}},
   "y": {"field": "v", "type": "quantitative", "scale": {"type": "symlog", "constant": 0.1, "domain": [-1.02, 1000000], "nice": false, "zero": false}, "axis": {"orient": "right", "labels": false, "title": null, "values": [0,1,100,10000,1000000], "tickSize": -10}}}},
  {"mark": {"type": "line", "opacity": 0}, "encoding": {
   "x": {"field": "t", "type": "temporal", "scale": {"type": "utc", "nice": false, "domain": [{"year":1996,"month":4,"date":9,"hours":19,"minutes":18,"utc":true},{"year":1996,"month":4,"date":9,"hours":20,"minutes":22,"utc":true}]}, "axis": {"orient": "bottom", "labels": false, "title": null, "values": [829077720000,829077840000,829077960000,829078080000,829078320000,829078440000,829078560000,829078680000,829078920000,829079040000,829079160000,829079280000,829079520000,829079640000,829079760000,829079880000,829080120000,829080240000,829080360000,829080480000,829080720000,829080840000,829080960000,829081080000], "tickSize": -2.5}},
   "y": {"field": "v", "type": "quantitative", "scale": {"type": "symlog", "constant": 0.1, "domain": [-1.02, 1000000], "nice": false, "zero": false}, "axis": {"orient": "left", "labels": false, "title": null, "values": [10,1000,100000], "tickSize": -5}}}},
  {"mark": {"type": "line", "opacity": 0}, "encoding": {
   "x": {"field": "t", "type": "temporal", "scale": {"type": "utc", "nice": false, "domain": [{"year":1996,"month":4,"date":9,"hours":19,"minutes":18,"utc":true},{"year":1996,"month":4,"date":9,"hours":20,"minutes":22,"utc":true}]}, "axis": {"orient": "top", "labels": false, "title": null, "values": [829077720000,829077840000,829077960000,829078080000,829078320000,829078440000,829078560000,829078680000,829078920000,829079040000,829079160000,829079280000,829079520000,829079640000,829079760000,829079880000,829080120000,829080240000,829080360000,829080480000,829080720000,829080840000,829080960000,829081080000], "tickSize": -2.5}},
   "y": {"field": "v", "type": "quantitative", "scale": {"type": "symlog", "constant": 0.1, "domain": [-1.02, 1000000], "nice": false, "zero": false}, "axis": {"orient": "right", "labels": false, "title": null, "values": [10,1000,100000], "tickSize": -5}}}}
 ],
 "resolve": {"scale": {"x": "independent", "y": "independent"}}
},
{
 "width": 611, "height": 57,
 "title": {"text": "h4", "orient": "right", "angle": 0, "align": "left", "baseline": "middle", "anchor": "middle", "offset": -3},
 "data": {"values": [
  {"t":"1996-04-09T19:18:00Z","v":0},{"t":"1996-04-09T19:36:34Z","v":0}
 ]},
 "layer": [
  {"mark": "line", "encoding": {
   "x": {"field": "t", "type": "temporal", "scale": {"type": "utc", "nice": false, "domain": [{"year":1996,"month":4,"date":9,"hours":19,"minutes":18,"utc":true},{"year":1996,"month":4,"date":9,"hours":20,"minutes":22,"utc":true}]}, "axis": {"orient": "bottom", "labels": false, "title": null, "values": [829077600000,829078200000,829078800000,829079400000,829080000000,829080600000,829081200000], "tickSize": -5}},
   "y": {"field": "v", "type": "quantitative", "scale": {"type": "symlog", "constant": 0.1, "domain": [0, 100000], "nice": false, "zero": false}, "axis": {"orient": "left", "title": null, "values": [0,1,10,100,1000,10000,100000], "labelFlush": true, "labelPadding": 13, "labelExpr": "'0'", "tickSize": -10}}}},
  {"mark": {"type": "line", "opacity": 0}, "encoding": {
   "x": {"field": "t", "type": "temporal", "scale": {"type": "utc", "nice": false, "domain": [{"year":1996,"month":4,"date":9,"hours":19,"minutes":18,"utc":true},{"year":1996,"month":4,"date":9,"hours":20,"minutes":22,"utc":true}]}, "axis": {"orient": "top", "labels": false, "title": null, "values": [829077600000,829078200000,829078800000,829079400000,829080000000,829080600000,829081200000], "tickSize": -5}},
   "y": {"field": "v", "type": "quantitative", "scale": {"type": "symlog", "constant": 0.1, "domain": [0, 100000], "nice": false, "zero": false}, "axis": {"orient": "right", "labels": false, "title": null, "values": [0,1,10,100,1000,10000,100000], "tickSize": -10}}}},
  {"mark": {"type": "line", "opacity": 0}, "encoding": {
   "x": {"field": "t", "type": "temporal", "scale": {"type": "utc", "nice": false, "domain": [{"year":1996,"month":4,"date":9,"hours":19,"minutes":18,"utc":true},{"year":1996,"month":4,"date":9,"hours":20,"minutes":22,"utc":true}]}, "axis": {"orient": "bottom", "labels": false, "title": null, "values": [829077720000,829077840000,829077960000,829078080000,829078320000,829078440000,829078560000,829078680000,829078920000,829079040000,829079160000,829079280000,829079520000,829079640000,829079760000,829079880000,829080120000,829080240000,829080360000,829080480000,829080720000,829080840000,829080960000,829081080000], "tickSize": -2.5}},
   "y": {"field": "v", "type": "quantitative", "scale": {"type": "symlog", "constant": 0.1, "domain": [0, 100000], "nice": false, "zero": false}, "axis": {"orient": "left", "labels": false, "title": null, "values": [0.2,0.3,0.4,0.5,0.6,0.7,0.8,0.9,2,3,4,5,6,7,8,9,20,30,40,50,60,70,80,90,200,300,400,500,600,700,800,900,2000,3000,4000,5000,6000,7000,8000,9000,20000,30000,40000,50000,60000,70000,80000,90000], "tickSize": -5}}}},
  {"mark": {"type": "line", "opacity": 0}, "encoding": {
   "x": {"field": "t", "type": "temporal", "scale": {"type": "utc", "nice": false, "domain": [{"year":1996,"month":4,"date":9,"hours":19,"minutes":18,"utc":true},{"year":1996,"month":4,"date":9,"hours":20,"minutes":22,"utc":true}]}, "axis": {"orient": "top", "labels": false, "title": null, "values": [829077720000,829077840000,829077960000,829078080000,829078320000,829078440000,829078560000,829078680000,829078920000,829079040000,829079160000,829079280000,829079520000,829079640000,829079760000,829079880000,829080120000,829080240000,829080360000,829080480000,829080720000,829080840000,829080960000,829081080000], "tickSize": -2.5}},
   "y": {"field": "v", "type": "quantitative", "scale": {"type": "symlog", "constant": 0.1, "domain": [0, 100000], "nice": false, "zero": false}, "axis": {"orient": "right", "labels": false, "title": null, "values": [0.2,0.3,0.4,0.5,0.6,0.7,0.8,0.9,2,3,4,5,6,7,8,9,20,30,40,50,60,70,80,90,200,300,400,500,600,700,800,900,2000,3000,4000,5000,6000,7000,8000,9000,20000,30000,40000,50000,60000,70000,80000,90000], "tickSize": -5}}}}
 ],
 "resolve": {"scale": {"x": "independent", "y": "independent"}}
},
{
 "width": 611, "height": 58,
 "title": {"text": "h5", "orient": "right", "angle": 0, "align": "left", "baseline": "middle", "anchor": "middle", "offset": -3},
 "data": {"values": [
  {"t":"1996-04-09T19:18:00Z","v":0},{"t":"1996-04-09T19:34:34Z","v":0},
  {"t":"1996-04-09T19:34:35Z","v":1600},{"t":"1996-04-09T19:34:37Z","v":0},{"t":"1996-04-09T19:34:39Z","v":1600},{"t":"1996-04-09T19:34:41Z","v":0},{"t":"1996-04-09T19:34:43Z","v":1650},{"t":"1996-04-09T19:34:45Z","v":0},{"t":"1996-04-09T19:34:47Z","v":1600},{"t":"1996-04-09T19:34:49Z","v":0},{"t":"1996-04-09T19:34:51Z","v":1600},{"t":"1996-04-09T19:34:53Z","v":0},
  {"t":"1996-04-09T19:35:30Z","v":0},{"t":"1996-04-09T19:35:31Z","v":1600},{"t":"1996-04-09T19:35:33Z","v":0},{"t":"1996-04-09T19:35:35Z","v":1620},{"t":"1996-04-09T19:35:37Z","v":0},{"t":"1996-04-09T19:35:39Z","v":1600},{"t":"1996-04-09T19:35:41Z","v":0},{"t":"1996-04-09T19:35:43Z","v":1650},{"t":"1996-04-09T19:35:45Z","v":0},{"t":"1996-04-09T19:35:47Z","v":1600},{"t":"1996-04-09T19:35:49Z","v":0},{"t":"1996-04-09T19:35:51Z","v":1620},{"t":"1996-04-09T19:35:53Z","v":0},{"t":"1996-04-09T19:35:55Z","v":1600},{"t":"1996-04-09T19:35:57Z","v":0},{"t":"1996-04-09T19:35:59Z","v":1650},{"t":"1996-04-09T19:36:01Z","v":0},{"t":"1996-04-09T19:36:03Z","v":1600},{"t":"1996-04-09T19:36:05Z","v":0},{"t":"1996-04-09T19:36:07Z","v":1620},{"t":"1996-04-09T19:36:09Z","v":0},{"t":"1996-04-09T19:36:11Z","v":1600},{"t":"1996-04-09T19:36:13Z","v":0},{"t":"1996-04-09T19:36:15Z","v":1650},{"t":"1996-04-09T19:36:17Z","v":0},{"t":"1996-04-09T19:36:19Z","v":1600},{"t":"1996-04-09T19:36:21Z","v":0},{"t":"1996-04-09T19:36:23Z","v":1600},{"t":"1996-04-09T19:36:25Z","v":1150},{"t":"1996-04-09T19:36:27Z","v":0},{"t":"1996-04-09T19:36:29Z","v":1150},{"t":"1996-04-09T19:36:31Z","v":0},{"t":"1996-04-09T19:36:33Z","v":1100},{"t":"1996-04-09T19:36:35Z","v":0}
 ]},
 "layer": [
  {"mark": "line", "encoding": {
   "x": {"field": "t", "type": "temporal", "scale": {"type": "utc", "nice": false, "domain": [{"year":1996,"month":4,"date":9,"hours":19,"minutes":18,"utc":true},{"year":1996,"month":4,"date":9,"hours":20,"minutes":22,"utc":true}]}, "axis": {"orient": "bottom", "title": "time UT", "titlePadding": 2, "labelPadding": 12, "labelFlush": false, "format": "%H:%M", "values": [{"year":1996,"month":4,"date":9,"hours":19,"minutes":20,"utc":true},{"year":1996,"month":4,"date":9,"hours":19,"minutes":30,"utc":true},{"year":1996,"month":4,"date":9,"hours":19,"minutes":40,"utc":true},{"year":1996,"month":4,"date":9,"hours":19,"minutes":50,"utc":true},{"year":1996,"month":4,"date":9,"hours":20,"minutes":0,"utc":true},{"year":1996,"month":4,"date":9,"hours":20,"minutes":10,"utc":true},{"year":1996,"month":4,"date":9,"hours":20,"minutes":20,"utc":true}], "tickSize": -5}},
   "y": {"field": "v", "type": "quantitative", "scale": {"type": "symlog", "constant": 0.1, "domain": [0, 10000], "nice": false, "zero": false}, "axis": {"orient": "left", "title": null, "values": [0,1,10,100,1000,10000], "labelFlush": true, "labelPadding": 13, "labelExpr": "format(datum.value, 'd')", "tickSize": -10}}}},
  {"mark": {"type": "line", "opacity": 0}, "encoding": {
   "x": {"field": "t", "type": "temporal", "scale": {"type": "utc", "nice": false, "domain": [{"year":1996,"month":4,"date":9,"hours":19,"minutes":18,"utc":true},{"year":1996,"month":4,"date":9,"hours":20,"minutes":22,"utc":true}]}, "axis": {"orient": "top", "labels": false, "title": null, "values": [829077600000,829078200000,829078800000,829079400000,829080000000,829080600000,829081200000], "tickSize": -5}},
   "y": {"field": "v", "type": "quantitative", "scale": {"type": "symlog", "constant": 0.1, "domain": [0, 10000], "nice": false, "zero": false}, "axis": {"orient": "right", "labels": false, "title": null, "values": [0,1,10,100,1000,10000], "tickSize": -10}}}},
  {"mark": {"type": "line", "opacity": 0}, "encoding": {
   "x": {"field": "t", "type": "temporal", "scale": {"type": "utc", "nice": false, "domain": [{"year":1996,"month":4,"date":9,"hours":19,"minutes":18,"utc":true},{"year":1996,"month":4,"date":9,"hours":20,"minutes":22,"utc":true}]}, "axis": {"orient": "bottom", "labels": false, "title": null, "values": [829077720000,829077840000,829077960000,829078080000,829078320000,829078440000,829078560000,829078680000,829078920000,829079040000,829079160000,829079280000,829079520000,829079640000,829079760000,829079880000,829080120000,829080240000,829080360000,829080480000,829080720000,829080840000,829080960000,829081080000], "tickSize": -2.5}},
   "y": {"field": "v", "type": "quantitative", "scale": {"type": "symlog", "constant": 0.1, "domain": [0, 10000], "nice": false, "zero": false}, "axis": {"orient": "left", "labels": false, "title": null, "values": [0.2,0.3,0.4,0.5,0.6,0.7,0.8,0.9,2,3,4,5,6,7,8,9,20,30,40,50,60,70,80,90,200,300,400,500,600,700,800,900,2000,3000,4000,5000,6000,7000,8000,9000], "tickSize": -5}}}},
  {"mark": {"type": "line", "opacity": 0}, "encoding": {
   "x": {"field": "t", "type": "temporal", "scale": {"type": "utc", "nice": false, "domain": [{"year":1996,"month":4,"date":9,"hours":19,"minutes":18,"utc":true},{"year":1996,"month":4,"date":9,"hours":20,"minutes":22,"utc":true}]}, "axis": {"orient": "top", "labels": false, "title": null, "values": [829077720000,829077840000,829077960000,829078080000,829078320000,829078440000,829078560000,829078680000,829078920000,829079040000,829079160000,829079280000,829079520000,829079640000,829079760000,829079880000,829080120000,829080240000,829080360000,829080480000,829080720000,829080840000,829080960000,829081080000], "tickSize": -2.5}},
   "y": {"field": "v", "type": "quantitative", "scale": {"type": "symlog", "constant": 0.1, "domain": [0, 10000], "nice": false, "zero": false}, "axis": {"orient": "right", "labels": false, "title": null, "values": [0.2,0.3,0.4,0.5,0.6,0.7,0.8,0.9,2,3,4,5,6,7,8,9,20,30,40,50,60,70,80,90,200,300,400,500,600,700,800,900,2000,3000,4000,5000,6000,7000,8000,9000], "tickSize": -5}}}}
 ],
 "resolve": {"scale": {"x": "independent", "y": "independent"}}
}
]
}
